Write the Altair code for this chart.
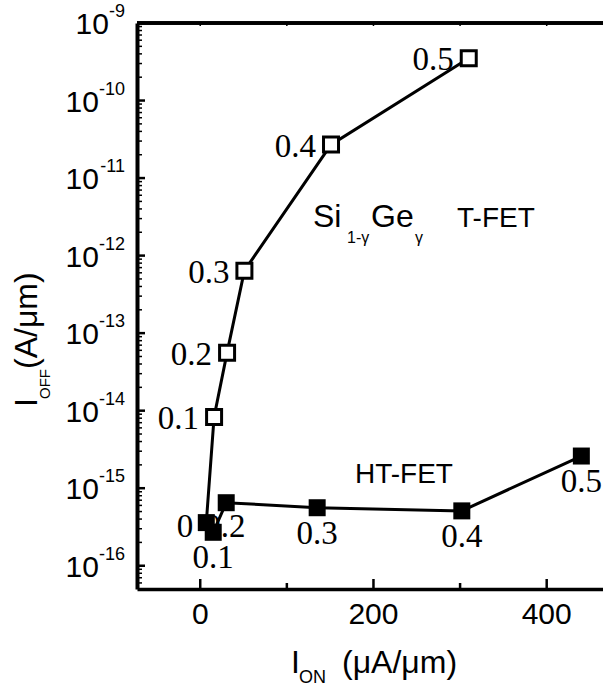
import altair as alt
import pandas as pd

# ---- data ----
ge = [0.0, 0.1, 0.2, 0.3, 0.4, 0.5]
tfet_ion = [7, 16, 31, 51, 151, 310]
tfet_ioff = [3.6e-16, 8.3e-15, 5.6e-14, 6.4e-13, 2.7e-11, 3.5e-10]
htfet_ion = [7, 15, 30, 135, 302, 440]
htfet_ioff = [3.6e-16, 2.7e-16, 6.5e-16, 5.6e-16, 5.1e-16, 2.6e-15]

y_exponents = [-9, -10, -11, -12, -13, -14, -15, -16]
x_major = [0, 200, 400]
x_minor = [100, 300]
x_top = [0, 100, 200, 300, 400]

W, H = 466, 566
SANS = "Liberation Sans"
SERIF = "Liberation Serif"

def lab(g):
    return "0" if g == 0 else f"{g:.1f}"

tdf = pd.DataFrame({"ge": ge, "ion": tfet_ion, "ioff": tfet_ioff, "lab": [lab(g) for g in ge]})
hdf = pd.DataFrame({"ge": ge, "ion": htfet_ion, "ioff": htfet_ioff, "lab": [lab(g) for g in ge]})

ytk = pd.DataFrame({"e": y_exponents, "v": [10.0 ** e for e in y_exponents],
                    "elab": [str(e) for e in y_exponents]})
yminor = pd.DataFrame({"v": [m * 10.0 ** e for e in range(-17, -9) for m in range(2, 10)
                             if 10 ** -16.3 <= m * 10.0 ** e <= 1e-9]})
xmaj = pd.DataFrame({"v": x_major, "t": [str(v) for v in x_major]})
xmin = pd.DataFrame({"v": x_minor})
xtop = pd.DataFrame({"v": x_top})

xs = alt.Scale(domain=[-73, 465], nice=False, zero=False)
ys = alt.Scale(type="log", domain=[10 ** -16.3, 1e-9], nice=False)

noaxis_x = alt.Axis(domain=True, domainWidth=3.5, domainColor="black", ticks=False,
                    labels=False, grid=False, title=None)
noaxis_y = alt.Axis(domain=True, domainWidth=4, domainColor="black", ticks=False,
                    labels=False, grid=False, title=None)

X = alt.X("ion:Q", scale=xs, axis=noaxis_x)
Y = alt.Y("ioff:Q", scale=ys, axis=noaxis_y)

t_line = alt.Chart(tdf).mark_line(color="black", strokeWidth=3).encode(
    x=X, y=Y, order=alt.Order("ge:Q"))
h_line = alt.Chart(hdf).mark_line(color="black", strokeWidth=3).encode(
    x=X, y=Y, order=alt.Order("ge:Q"))

t_pts = alt.Chart(tdf).transform_filter("datum.ge > 0").mark_point(
    shape="square", filled=True, fill="white", stroke="black", strokeWidth=3,
    size=225, opacity=1).encode(x=X, y=Y)
h_pts = alt.Chart(hdf).mark_point(
    shape="square", filled=True, color="black", size=289, opacity=1).encode(x=X, y=Y)

t_lab = alt.Chart(tdf).transform_filter("datum.ge > 0").mark_text(
    font=SERIF, fontSize=33, align="right", baseline="middle", dx=-15, dy=2,
    color="black").encode(x=X, y=Y, text="lab:N")
h_lab0 = alt.Chart(hdf).transform_filter("datum.ge == 0").mark_text(
    font=SERIF, fontSize=33, align="right", baseline="middle", dx=-13, dy=4,
    color="black").encode(x=X, y=Y, text="lab:N")
h_lab2 = alt.Chart(hdf).transform_filter("datum.ge == 0.2").mark_text(
    font=SERIF, fontSize=33, align="left", baseline="middle", dx=-22, dy=24,
    color="black").encode(x=X, y=Y, text="lab:N")
h_labs = alt.Chart(hdf).transform_filter(
    "datum.ge == 0.1 || datum.ge == 0.3 || datum.ge == 0.4 || datum.ge == 0.5").mark_text(
    font=SERIF, fontSize=33, align="center", baseline="middle", dy=26,
    color="black").encode(x=X, y=Y, text="lab:N")

# ---- axes ticks (inward) ----
yv = alt.Y("v:Q", scale=ys, axis=noaxis_y)
xv = alt.X("v:Q", scale=xs, axis=noaxis_x)
ymaj_t = alt.Chart(ytk).mark_rule(color="black", strokeWidth=2.5).encode(
    y=yv, x=alt.value(0), x2=alt.value(8))
ymin_t = alt.Chart(yminor).mark_rule(color="black", strokeWidth=1.5).encode(
    y=yv, x=alt.value(0), x2=alt.value(5))
xmaj_t = alt.Chart(xmaj).mark_rule(color="black", strokeWidth=2.5).encode(
    x=xv, y=alt.value(H), y2=alt.value(H - 10))
xmin_t = alt.Chart(xmin).mark_rule(color="black", strokeWidth=2.5).encode(
    x=xv, y=alt.value(H), y2=alt.value(H - 6))
xtop_t = alt.Chart(xtop).mark_rule(color="black", strokeWidth=1.5).encode(
    x=xv, y=alt.value(0), y2=alt.value(3))
top_line = alt.Chart(xtop).mark_rule(color="black", strokeWidth=3).encode(
    x=alt.value(0), x2=alt.value(W), y=alt.value(0))

# ---- tick labels ----
ylab10 = alt.Chart(ytk).transform_calculate(
    px="-12 - (0.333*18 + 0.556*18*length(toString(abs(datum.e))))"
).mark_text(font=SANS, fontSize=30, align="right", baseline="middle", dy=2,
            color="black").encode(
    y=yv, x=alt.X("px:Q", scale=None), text=alt.value("10"))
ylabexp = alt.Chart(ytk).mark_text(font=SANS, fontSize=18, align="right",
                                   baseline="middle", dy=-11, color="black").encode(
    y=yv, x=alt.value(-12), text="elab:N")
xlab = alt.Chart(xmaj).mark_text(font=SANS, fontSize=30, align="center",
                                 baseline="middle", color="black").encode(
    x=xv, y=alt.value(H + 26), text="t:N")

# ---- axis titles ----
def txt(s, x, y, size, align="left", angle=0):
    kw = dict(font=SANS, fontSize=size, align=align, baseline="alphabetic", color="black")
    if angle:
        kw["angle"] = angle
    return alt.Chart(xtop).transform_filter("datum.v == 0").mark_text(**kw).encode(
        x=alt.value(x), y=alt.value(y), text=alt.value(s))

xt = [txt("I", 154, 650, 32), txt("ON", 162, 660, 18), txt("(\u03bcA/\u03bcm)", 205, 650, 32)]
yt = [txt("I", -100, 384, 32, angle=270), txt("OFF", -87, 376, 15, angle=270),
      txt("(A/\u03bcm)", -100, 346, 32, angle=270)]

# ---- annotations (data coordinates) ----
def ann(s, xd, yd, size, dx=0, dy=0, align="left"):
    return alt.Chart(xtop).transform_filter("datum.v == 0").mark_text(
        font=SANS, fontSize=size, align=align, baseline="alphabetic", dx=dx, dy=dy,
        color="black").encode(x=alt.datum(xd), y=alt.datum(yd), text=alt.value(s))

SX, SY = 130.2, 2.34e-12
anns = [ann("Si", SX, SY, 32), ann("1-\u03b3", SX, SY, 16, dx=34, dy=16),
        ann("Ge", SX, SY, 32, dx=58), ann("\u03b3", SX, SY, 16, dx=102, dy=16),
        ann("T-FET", SX, SY, 28, dx=144),
        ann("HT-FET", 291.8, 1.17e-15, 28, align="right")]

chart = alt.layer(
    t_line, h_line, ymaj_t, ymin_t, xmaj_t, xmin_t, xtop_t, top_line,
    t_pts, h_pts, t_lab, h_lab0, h_lab2, h_labs,
    ylab10, ylabexp, xlab, *xt, *yt, *anns
).properties(
    width=W, height=H,
    autosize=alt.AutoSizeParams(type="none"),
    padding={"left": 137, "top": 23, "right": 0, "bottom": 97},
    background="white",
).configure_view(stroke=None)

chart.save("out.html", embed_options={"renderer": "svg", "actions": False})
